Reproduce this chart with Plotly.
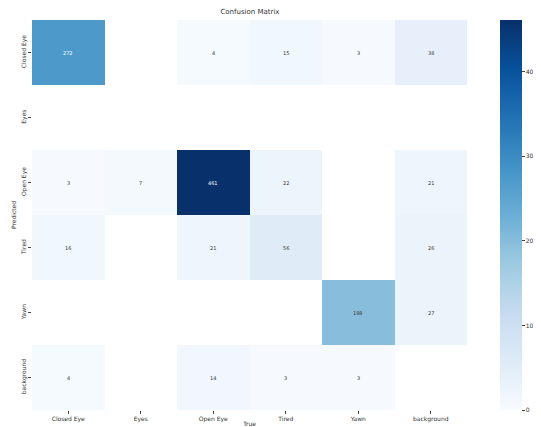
import plotly.graph_objects as go

categories = ["Closed Eye", "Eyes", "Open Eye", "Tired", "Yawn", "background"]
row_closed_eye = [272, None, 4, 15, 3, 38]
row_eyes = [None, None, None, None, None, None]
row_open_eye = [3, 7, 461, 22, None, 21]
row_tired = [16, None, 21, 56, None, 26]
row_yawn = [None, None, None, None, 198, 27]
row_background = [4, None, 14, 3, 3, None]
colorbar_ticks = [0, 100, 200, 300, 400]

z = [row_closed_eye, row_eyes, row_open_eye, row_tired, row_yawn, row_background]
zmax = 461

fig = go.Figure(go.Heatmap(
    z=z, x=categories, y=categories,
    colorscale="Blues", zmin=0, zmax=zmax,
    hoverongaps=False,
    colorbar=dict(
        x=1.076, xanchor="left", xpad=0, ypad=0,
        y=0.5, len=1, lenmode="fraction", thickness=22,
        outlinewidth=0, ticks="outside", ticklen=3,
        tickvals=colorbar_ticks, tickfont=dict(size=6, color="#333"),
    ),
))

for ri, row in enumerate(z):
    for ci, v in enumerate(row):
        if v is None:
            continue
        fig.add_annotation(
            x=categories[ci], y=categories[ri], text=str(v), showarrow=False,
            font=dict(size=5, color="white" if v > 0.5 * zmax else "#333"),
        )

fig.update_layout(
    width=533, height=419,
    margin=dict(l=24, r=74, t=12, b=17, autoexpand=False),
    paper_bgcolor="white", plot_bgcolor="white",
    title=dict(text="Confusion Matrix", x=0.454, xanchor="center", y=0.998, yanchor="top",
               font=dict(size=7, color="#333"), automargin=False),
    font=dict(family="DejaVu Sans", color="#333"),
)
fig.update_xaxes(
    title=dict(text="True", font=dict(size=6), standoff=2),
    tickfont=dict(size=6), ticks="outside", ticklen=3, showgrid=False, zeroline=False,
    automargin=False,
)
fig.update_yaxes(
    title=dict(text="Predicted", font=dict(size=6), standoff=2),
    tickfont=dict(size=6), tickangle=-90, ticks="outside", ticklen=3,
    autorange="reversed", showgrid=False, zeroline=False, automargin=False,
)

fig.write_html("out.html")
